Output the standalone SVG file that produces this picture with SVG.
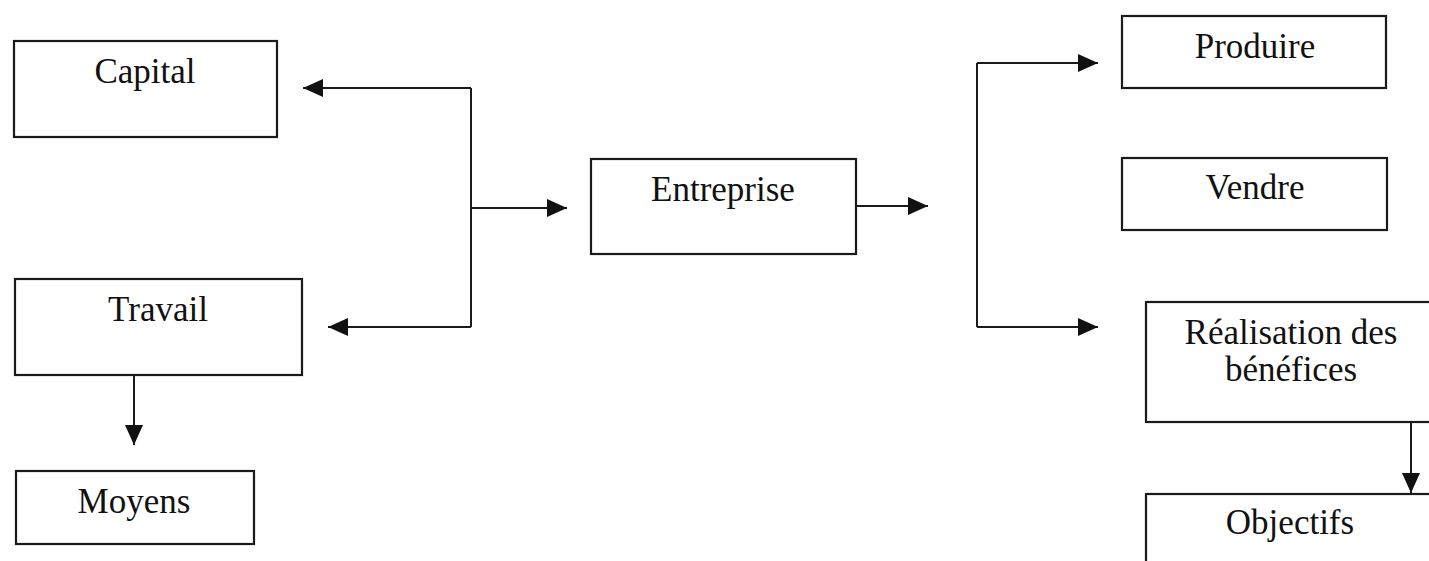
<svg xmlns="http://www.w3.org/2000/svg" width="1429" height="561" viewBox="0 0 1429 561">
<style>
.box{fill:#fff;stroke:#1a1a1a;stroke-width:2.2}
.lbl{font-family:"Liberation Serif","Times New Roman",serif;font-size:35px;fill:#111;text-anchor:middle}
.con{fill:none;stroke:#1a1a1a;stroke-width:2}
</style>
<defs>
<marker id="arr" markerUnits="userSpaceOnUse" markerWidth="20" markerHeight="20" refX="20" refY="9" orient="auto">
<path d="M0,0 L20,9 L0,18 z" fill="#111"/>
</marker>
</defs>
<rect width="1429" height="561" fill="#fff"/>
<g id="capital"><rect class="box" x="14" y="41" width="263" height="96"/><text class="lbl" x="145" y="83">Capital</text></g>
<g id="travail"><rect class="box" x="15" y="279" width="287" height="96"/><text class="lbl" x="158" y="321">Travail</text></g>
<g id="moyens"><rect class="box" x="16" y="471" width="238" height="73"/><text class="lbl" x="134" y="513">Moyens</text></g>
<g id="entreprise"><rect class="box" x="591" y="159" width="265" height="95"/><text class="lbl" x="723" y="201">Entreprise</text></g>
<g id="produire"><rect class="box" x="1122" y="16" width="264" height="72"/><text class="lbl" x="1255" y="58">Produire</text></g>
<g id="vendre"><rect class="box" x="1122" y="158" width="265" height="72"/><text class="lbl" x="1255" y="199">Vendre</text></g>
<g id="realisation"><rect class="box" x="1146" y="302" width="300" height="120"/><text class="lbl" x="1291" y="344">Réalisation des</text><text class="lbl" x="1291" y="381">bénéfices</text></g>
<g id="objectifs"><rect class="box" x="1146" y="494" width="300" height="100"/><text class="lbl" x="1290" y="534">Objectifs</text></g>
<g id="connectors">
<path class="con" d="M471,88 V327"/>
<path class="con" d="M471,88 H303" marker-end="url(#arr)"/>
<path class="con" d="M471,327 H328" marker-end="url(#arr)"/>
<path class="con" d="M471,208 H567" marker-end="url(#arr)"/>
<path class="con" d="M856,206 H928" marker-end="url(#arr)"/>
<path class="con" d="M977,63 V327"/>
<path class="con" d="M977,63 H1098" marker-end="url(#arr)"/>
<path class="con" d="M977,327 H1098" marker-end="url(#arr)"/>
<path class="con" d="M134,375 V445" marker-end="url(#arr)"/>
<path class="con" d="M1411,422 V493" marker-end="url(#arr)"/>
</g>
</svg>
